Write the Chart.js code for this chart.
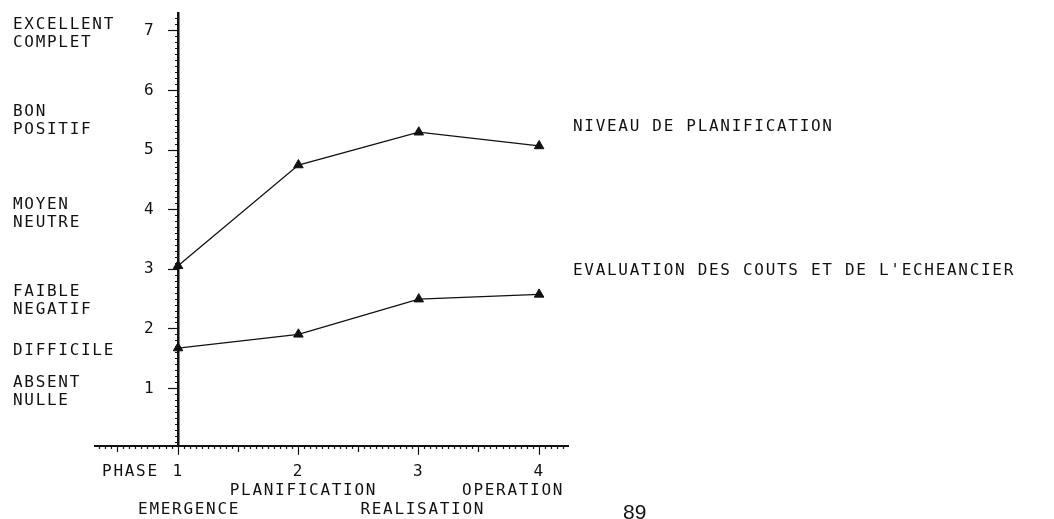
<!DOCTYPE html>
<html lang="fr">
<head>
<meta charset="utf-8">
<title>Niveau de planification par phase</title>
<script src="https://cdn.jsdelivr.net/npm/chart.js@4.4.1/dist/chart.umd.min.js"></script>
<style>
  html, body { margin: 0; padding: 0; background: #fff; }
  #wrap { position: relative; width: 1054px; height: 519px; }
</style>
</head>
<body>
<div id="wrap"><canvas id="chart"></canvas></div>
<script>
// Données
const phases = [1, 2, 3, 4];
const phaseNames = ['EMERGENCE', 'PLANIFICATION', 'REALISATION', 'OPERATION'];
const niveauPlanification = [3.06, 4.75, 5.30, 5.07];
const evaluationCouts = [1.68, 1.91, 2.50, 2.58];
const seriesNames = ['NIVEAU DE PLANIFICATION', "EVALUATION DES COUTS ET DE L'ECHEANCIER"];
const qualityLabels = [['EXCELLENT', 'COMPLET'], ['BON', 'POSITIF'], ['MOYEN', 'NEUTRE'],
                       ['FAIBLE', 'NEGATIF'], ['DIFFICILE'], ['ABSENT', 'NULLE']];
const qualityLevels = [6.95, 5.49, 3.93, 2.47, 1.64, 0.94];
const pageNumber = '89';

// Mise en page
const FONT = '"DejaVu Sans Mono", monospace';
const INK = '#111';
const SPACING = '1.7px';
const phaseNameDx = [11, 5, 4, -26];
const phaseNameRow = [1, 0, 1, 0];
const seriesLabelLevels = [5.39, 2.98];

const isMajor = (v) => Math.abs(v - Math.round(v)) < 1e-9;
const isHalf = (v) => Math.abs(v * 2 - Math.round(v * 2)) < 1e-9;

// longueur des traits : entier = plein, demi (axe x) = moyen, sinon petit point
const tickDash = (ctx) => {
    const v = ctx.tick ? ctx.tick.value : 0;
    if (isMajor(v)) return [];
    if (isHalf(v) && ctx.scale.axis === 'x') return [5, 40];
    return [2, 40];
};

// textes libres : libellés de qualité, noms de phases, légendes des courbes
const annotations = {
    id: 'annotations',
    beforeDraw(chart) {
        chart.ctx.letterSpacing = SPACING;
    },
    afterDraw(chart) {
        const { ctx, scales: { x, y }, chartArea } = chart;
        ctx.save();
        ctx.letterSpacing = SPACING;
        ctx.fillStyle = INK;
        ctx.font = '16px ' + FONT;
        ctx.textBaseline = 'middle';

        // échelle qualitative à gauche
        ctx.textAlign = 'left';
        qualityLabels.forEach((lines, i) => {
            const cy = y.getPixelForValue(qualityLevels[i]);
            const top = cy - (lines.length - 1) * 9;
            lines.forEach((t, j) => ctx.fillText(t, 13, top + j * 18));
        });

        // "PHASE" devant le 1
        ctx.fillText('PHASE', x.getPixelForValue(phases[0]) - 76, 472);

        // noms des phases sous l'axe
        ctx.textAlign = 'center';
        phaseNames.forEach((t, i) => {
            const px = x.getPixelForValue(phases[i]) + phaseNameDx[i];
            ctx.fillText(t, px, phaseNameRow[i] ? 510 : 491);
        });

        // libellés des courbes
        ctx.textAlign = 'left';
        seriesNames.forEach((t, i) => {
            ctx.fillText(t, chartArea.right + 5, y.getPixelForValue(seriesLabelLevels[i]));
        });

        // numéro de page
        ctx.letterSpacing = '0px';
        ctx.font = '21px "Liberation Sans", sans-serif';
        ctx.textBaseline = 'top';
        ctx.fillText(pageNumber, 623, 503);
        ctx.restore();
    }
};

const lineDataset = (label, values) => ({
    label,
    data: phases.map((p, i) => ({ x: p, y: values[i] })),
    borderColor: INK,
    borderWidth: 1.3,
    pointStyle: 'triangle',
    pointRadius: 5.5,
    pointBackgroundColor: INK,
    pointBorderColor: INK,
    pointBorderWidth: 1,
    tension: 0
});

new Chart(document.getElementById('chart'), {
    type: 'line',
    data: {
        datasets: [
            lineDataset(seriesNames[0], niveauPlanification),
            lineDataset(seriesNames[1], evaluationCouts)
        ]
    },
    options: {
        responsive: true,
        maintainAspectRatio: false,
        animation: false,
        layout: { padding: { left: 95, right: 486, top: 13, bottom: 31 } },
        plugins: { legend: { display: false }, tooltip: { enabled: false } },
        scales: {
            x: {
                type: 'linear',
                min: 0.31,
                max: 4.24,
                afterBuildTicks: (scale) => {
                    const t = [];
                    for (let k = 7; k <= 84; k++) t.push({ value: k / 20 });
                    scale.ticks = t;
                },
                border: { display: true, color: INK, width: 2 },
                grid: {
                    drawOnChartArea: false,
                    drawTicks: true,
                    tickLength: 9,
                    tickWidth: 1.2,
                    tickColor: INK,
                    tickBorderDash: tickDash
                },
                ticks: {
                    autoSkip: false,
                    maxRotation: 0,
                    minRotation: 0,
                    padding: 7,
                    color: INK,
                    font: { family: FONT, size: 16 },
                    callback: (v) => isMajor(v) ? String(Math.round(v)) : ''
                }
            },
            y: {
                type: 'linear',
                position: { x: 1 },
                min: 0.04,
                max: 7.3,
                afterBuildTicks: (scale) => {
                    const t = [];
                    for (let k = 1; k <= 72; k++) t.push({ value: k / 10 });
                    scale.ticks = t;
                },
                border: { display: true, color: INK, width: 2.5 },
                grid: {
                    drawOnChartArea: false,
                    drawTicks: true,
                    tickLength: 9,
                    tickWidth: 1.2,
                    tickColor: INK,
                    tickBorderDash: tickDash
                },
                ticks: {
                    autoSkip: false,
                    padding: 0,
                    color: INK,
                    font: { family: FONT, size: 16 },
                    // l'étiquette se place sur l'axe : deux espaces la décalent à gauche du trait
                    callback: (v) => isMajor(v) ? String(Math.round(v)) + '  ' : ''
                }
            }
        }
    },
    plugins: [annotations]
});
</script>
</body>
</html>
